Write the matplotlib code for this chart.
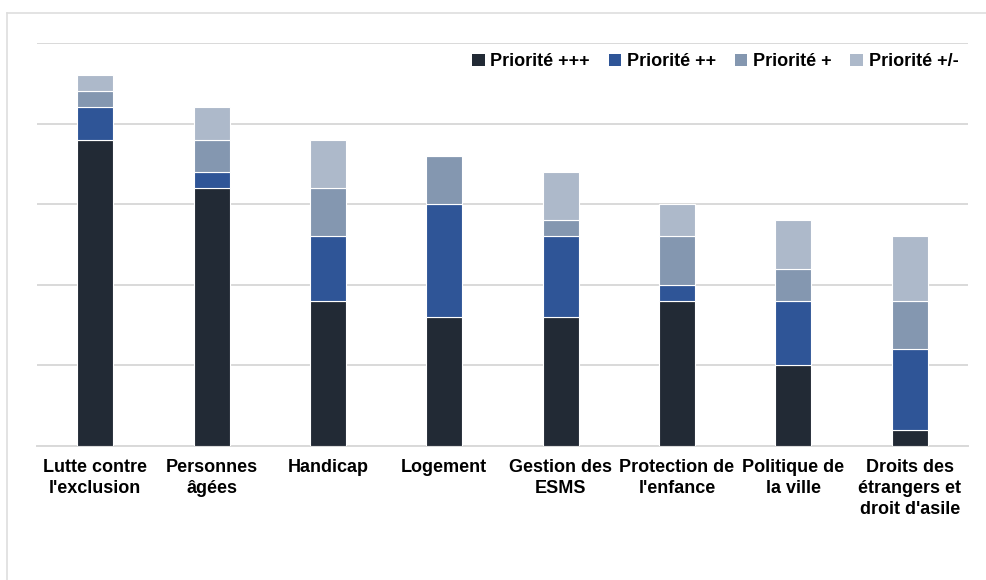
import matplotlib
matplotlib.use("Agg")
import matplotlib.pyplot as plt
import numpy as np
from matplotlib.lines import Line2D
from matplotlib.patches import Patch

categories = [
    "Lutte contre\nl'exclusion",
    "Personnes\nâgées",
    "Handicap",
    "Logement",
    "Gestion des\nESMS",
    "Protection de\nl'enfance",
    "Politique de\nla ville",
    "Droits des\nétrangers et\ndroit d'asile",
]
series_names = ["Priorité +++", "Priorité ++", "Priorité +", "Priorité +/-"]
prio_3 = [19, 16, 9, 8, 8, 9, 5, 1]
prio_2 = [2, 1, 4, 7, 5, 1, 4, 5]
prio_1 = [1, 2, 3, 3, 1, 3, 2, 3]
prio_0 = [1, 2, 3, 0, 3, 2, 3, 4]
colors = ["#222a35", "#2f5597", "#8497b0", "#adb9ca"]

plt.rcParams["font.family"] = ["Liberation Sans", "DejaVu Sans"]

fig = plt.figure(figsize=(9.87, 5.80), dpi=100, facecolor="white")
ax = fig.add_axes([37 / 987, 1 - 446 / 580, 931 / 987, (446 - 43) / 580])

# outer chart frame (only top and left edges are visible in the crop)
fig.add_artist(Line2D([7 / 987, 7 / 987], [0, 1 - 13 / 580], transform=fig.transFigure,
                      color="#dedede", linewidth=1.2))
fig.add_artist(Line2D([7 / 987, 1], [1 - 13 / 580, 1 - 13 / 580], transform=fig.transFigure,
                      color="#dedede", linewidth=1.2))

x = np.arange(len(categories))
bottom = np.zeros(len(categories))
for name, vals, col in zip(series_names, [prio_3, prio_2, prio_1, prio_0], colors):
    vals = np.array(vals, dtype=float)
    ax.bar(x, vals, width=0.31, bottom=bottom, color=col, edgecolor="white",
           linewidth=0.8, label=name, zorder=3)
    bottom += vals

ax.set_xlim(-0.5, len(categories) - 0.5)
ax.set_ylim(0, 25)
ax.set_yticks(np.arange(0, 26, 5))
ax.yaxis.grid(True, color="#d9d9d9", linewidth=1.4, zorder=0)
ax.tick_params(axis="y", left=False, labelleft=False)
ax.tick_params(axis="x", length=0, pad=9)
ax.set_xticks(x)
ax.set_xticklabels(categories, fontsize=13, fontweight="bold", linespacing=1.32)
for s in ["top", "right", "left"]:
    ax.spines[s].set_visible(False)
ax.spines["bottom"].set_color("#d9d9d9")
ax.spines["bottom"].set_linewidth(1.4)

handles = [Patch(facecolor=c, edgecolor="none") for c in colors]
leg = ax.legend(handles, series_names, loc="upper right", bbox_to_anchor=(1.007, 1.015),
                ncol=4, frameon=False, prop={"weight": "bold", "size": 13},
                handlelength=0.7, handleheight=0.7, handletextpad=0.3, columnspacing=1.05)

fig.savefig("out.png", dpi=100, facecolor="white")
